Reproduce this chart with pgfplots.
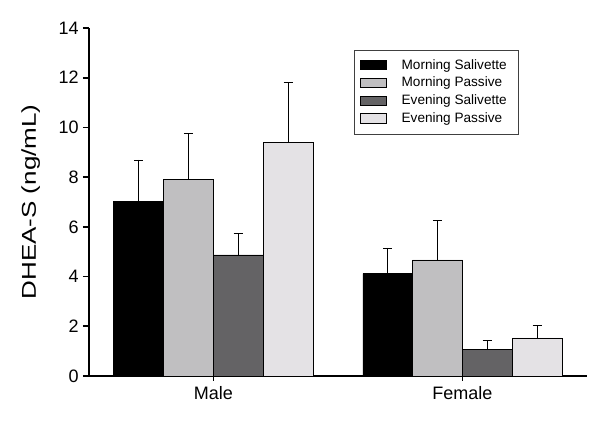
\documentclass[border=0pt]{standalone}
\usepackage{fontspec}
\setmainfont{Liberation Sans}
\newfontfamily\widefont[FakeStretch=1.3]{Liberation Sans}
\usepackage{pgfplots}
\pgfplotsset{compat=1.18}
\definecolor{msal}{HTML}{000000}
\definecolor{mpas}{HTML}{C0BFC1}
\definecolor{esal}{HTML}{646365}
\definecolor{epas}{HTML}{E4E2E5}

\begin{document}
\begin{tikzpicture}
\begin{axis}[name=ax,
  scale only axis,width=373.5pt,height=261pt,
  ybar=0pt,bar width=0.2,
  xmin=-0.5,xmax=1.5,ymin=0,ymax=14,
  axis lines*=left,axis line style={line width=1.5pt},
  xtick={0,1},xticklabels={Male,Female},ytick={0,2,...,14},
  tick align=outside,tick style={line width=1.2pt,black},
  major x tick style={/pgfplots/major tick length=3.5pt},
  major y tick style={/pgfplots/major tick length=4.5pt},
  ticklabel style={font=\fontsize{13.5}{16}\selectfont},
  /pgf/number format/assume math mode=true,
  ylabel={\widefont\fontsize{15}{18}\selectfont DHEA-S (ng/mL)},
  ylabel shift=7pt,
  legend style={at={(0.532,0.938)},anchor=north west,draw=black!75,
    font=\fontsize{10.2}{12.3}\selectfont,row sep=0.5pt,inner xsep=4pt,inner ysep=5pt,
    nodes={inner xsep=5pt}},
  legend cell align=left,
  legend image code/.code={\draw[#1,line width=0.6pt] (0pt,-3.6pt) rectangle (19.5pt,3.6pt);
    \path (26pt,0pt);},
  every axis plot/.append style={draw=black,line width=0.6pt},
  error bars/y dir=plus,error bars/y explicit,
  error bars/error bar style={line width=0.7pt,black},
  error bars/error mark options={rotate=90,mark size=3.5pt,line width=0.7pt,black}
]
\addplot[fill=msal] coordinates {(0,7.01) +- (0,1.68) (1,4.12) +- (0,1.03)};
\addlegendentry{Morning Salivette}
\addplot[fill=mpas] coordinates {(0,7.92) +- (0,1.83) (1,4.67) +- (0,1.60)};
\addlegendentry{Morning Passive}
\addplot[fill=esal] coordinates {(0,4.87) +- (0,0.88) (1,1.06) +- (0,0.38)};
\addlegendentry{Evening Salivette}
\addplot[fill=epas] coordinates {(0,9.41) +- (0,2.38) (1,1.53) +- (0,0.52)};
\addlegendentry{Evening Passive}
\end{axis}
\pgfresetboundingbox
\path ([shift={(-66.75pt,-38.25pt)}]ax.south west) rectangle ([shift={(383.25pt,282pt)}]ax.south west);
\end{tikzpicture}
\end{document}
